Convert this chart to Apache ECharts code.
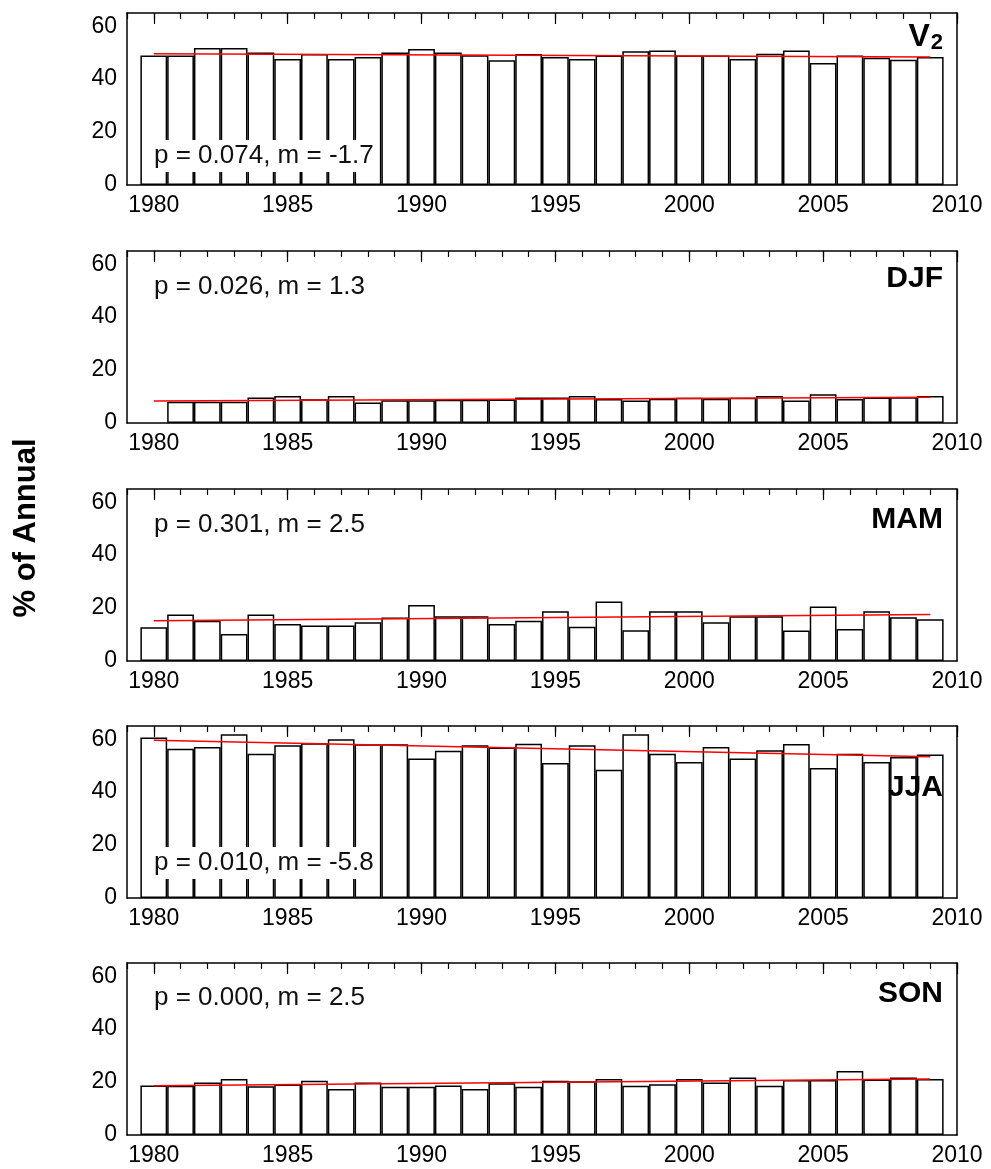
<!DOCTYPE html>
<html>
<head>
<meta charset="utf-8">
<script src="https://cdn.jsdelivr.net/npm/echarts@6/dist/echarts.min.js"></script>
<style>
html, body { margin: 0; padding: 0; background: #fff; }
#main { width: 991px; height: 1169px; }
</style>
</head>
<body>
<div id="main"></div>
<script>
// years of the bars
const years = [1980, 1981, 1982, 1983, 1984, 1985, 1986, 1987, 1988, 1989,
  1990, 1991, 1992, 1993, 1994, 1995, 1996, 1997, 1998, 1999,
  2000, 2001, 2002, 2003, 2004, 2005, 2006, 2007, 2008, 2009];
// axis runs one year past each end
const axisYears = ['1979'].concat(years.map(String), ['2010']);

// % of annual, per panel
const v2 = [48.9, 48.9, 51.8, 51.8, 50.1, 47.6, 49.5, 47.6, 48.4, 50.1,
  51.4, 50.1, 49.0, 47.1, 49.5, 48.4, 47.6, 48.9, 50.5, 50.8,
  48.9, 48.9, 47.6, 49.6, 50.8, 46.1, 48.9, 48.1, 47.3, 48.4];
const djf = [null, 8.0, 8.0, 8.0, 9.6, 10.2, 9.0, 10.2, 7.7, 8.6,
  8.6, 8.8, 8.8, 8.9, 9.6, 9.6, 10.2, 9.1, 8.5, 9.2,
  9.5, 9.2, 9.5, 10.2, 8.5, 10.9, 9.1, 9.6, 9.7, 10.2];
const mam = [12.8, 17.6, 15.2, 10.2, 17.6, 14.0, 13.4, 13.4, 14.6, 16.4,
  21.2, 16.9, 16.9, 14.0, 15.2, 18.8, 12.9, 22.5, 11.6, 18.8,
  18.8, 14.6, 16.9, 16.9, 11.5, 20.6, 12.1, 18.8, 16.5, 15.8];
const jja = [60.7, 56.4, 57.1, 61.9, 54.5, 57.7, 58.5, 60.0, 58.1, 58.1,
  52.7, 55.6, 57.7, 56.9, 58.3, 51.0, 57.7, 48.5, 61.9, 54.5,
  51.4, 57.1, 52.7, 55.8, 58.2, 49.1, 54.5, 51.4, 53.3, 54.2];
const son = [18.7, 18.6, 19.8, 21.2, 18.4, 19.1, 20.5, 17.4, 19.8, 18.2,
  18.2, 18.7, 17.4, 19.6, 18.2, 20.5, 20.3, 21.2, 18.6, 19.2,
  21.2, 19.8, 21.7, 18.6, 20.8, 20.8, 24.2, 21.0, 21.7, 21.2];

// trend line end values (1980, 2009)
const v2Trend = [49.6, 48.4];
const djfTrend = [8.3, 9.7];
const mamTrend = [15.2, 17.6];
const jjaTrend = [59.6, 53.4];
const sonTrend = [18.6, 21.2];

const panelNames = ['V2', 'DJF', 'MAM', 'JJA', 'SON'];
const statTexts = ['p = 0.074, m = -1.7', 'p = 0.026, m = 1.3', 'p = 0.301, m = 2.5',
  'p = 0.010, m = -5.8', 'p = 0.000, m = 2.5'];
const yTicks = [0, 20, 40, 60];

const panelData = [v2, djf, mam, jja, son];
const panelTrend = [v2Trend, djfTrend, mamTrend, jjaTrend, sonTrend];

// layout
const gridTops = [13, 251, 489, 726, 963];
const statTops = [140, 271, 509, 847, 982];
const nameTops = [20, 264, 505, 773, 979];
const font = "'Liberation Sans', Arial, sans-serif";
const black = '#000';

let grid = [], xAxis = [], yAxis = [], series = [], title = [];

gridTops.forEach((top, i) => {
  grid.push({ left: 127, right: 34, top: top, height: 172 });

  // bottom axis with year labels
  xAxis.push({
    gridIndex: i, type: 'category', data: axisYears, boundaryGap: false, position: 'bottom',
    axisLine: { onZero: false, lineStyle: { color: black, width: 1.5 } },
    axisTick: { show: false },
    axisLabel: {
      interval: (idx, val) => Number(val) % 5 === 0,
      color: black, fontSize: 23, fontFamily: font, margin: 9
    },
    splitLine: { show: false }
  });
  // top axis, minor ticks every year
  xAxis.push({
    gridIndex: i, type: 'category', data: axisYears, boundaryGap: false, position: 'top',
    axisLine: { show: true, onZero: false, lineStyle: { color: black, width: 1.5 } },
    axisTick: { show: true, inside: true, length: 6, interval: 0, lineStyle: { color: black, width: 1.2 } },
    axisLabel: { show: false },
    splitLine: { show: false }
  });
  // top axis, long ticks every 5 years
  xAxis.push({
    gridIndex: i, type: 'category', data: axisYears, boundaryGap: false, position: 'top',
    axisLine: { show: false, onZero: false },
    axisTick: {
      show: true, inside: true, length: 11,
      interval: (idx, val) => Number(val) % 5 === 0,
      lineStyle: { color: black, width: 1.2 }
    },
    axisLabel: { show: false },
    splitLine: { show: false }
  });

  // left y axis with labels
  yAxis.push({
    gridIndex: i, type: 'value', min: 0, max: 65, interval: 20, position: 'left',
    axisLine: { show: true, onZero: false, lineStyle: { color: black, width: 1.5 } },
    axisTick: { show: false },
    axisLabel: {
      formatter: v => (yTicks.indexOf(v) >= 0 ? String(v) : ''),
      color: black, fontSize: 23, fontFamily: font, margin: 10
    },
    splitLine: { show: false }
  });
  // right y axis, ticks only
  yAxis.push({
    gridIndex: i, type: 'value', min: 0, max: 65, interval: 20, position: 'right',
    axisLine: { show: true, onZero: false, lineStyle: { color: black, width: 1.5 } },
    axisTick: { inside: true, length: 10, lineStyle: { color: black, width: 1.2 } },
    axisLabel: { show: false },
    splitLine: { show: false }
  });

  // bars
  series.push({
    type: 'bar', xAxisIndex: i * 3, yAxisIndex: i * 2,
    data: years.map((y, k) => [String(y), panelData[i][k]]),
    barWidth: '100%',
    itemStyle: { color: 'rgba(255,255,255,0)', borderColor: black, borderWidth: 1.5 },
    silent: true, z: 2
  });
  // trend line
  series.push({
    type: 'line', xAxisIndex: i * 3, yAxisIndex: i * 2,
    data: [[String(years[0]), panelTrend[i][0]], [String(years[years.length - 1]), panelTrend[i][1]]],
    symbol: 'none',
    lineStyle: { color: '#ff0000', width: 1.5 },
    silent: true, z: 3
  });

  // p / m text
  title.push({
    text: statTexts[i], left: 149, top: statTops[i],
    padding: [3, 5], backgroundColor: '#fff',
    textStyle: { fontSize: 26, fontWeight: 'normal', color: '#111', fontFamily: font }
  });
  // panel name
  title.push({
    text: panelNames[i] === 'V2' ? '{b|V}{s|2}' : panelNames[i],
    right: 48, top: nameTops[i], padding: 0,
    textStyle: {
      fontSize: 30, fontWeight: 'bold', color: black, fontFamily: font,
      rich: {
        b: { fontSize: 32, fontWeight: 'bold', color: black, fontFamily: font },
        s: { fontSize: 22, fontWeight: 'bold', color: black, fontFamily: font, padding: [12, 0, 0, 1] }
      }
    }
  });
});

let myChart = echarts.init(document.getElementById('main'));
let option = {
  backgroundColor: '#fff',
  animation: false,
  grid: grid,
  xAxis: xAxis,
  yAxis: yAxis,
  series: series,
  title: title,
  graphic: [{
    type: 'text', x: 26, y: 528, rotation: Math.PI / 2,
    style: {
      text: '% of Annual', fontSize: 31, fontWeight: 'bold', fill: black, fontFamily: font,
      align: 'center', verticalAlign: 'middle'
    }
  }]
};
myChart.setOption(option);
</script>
</body>
</html>
